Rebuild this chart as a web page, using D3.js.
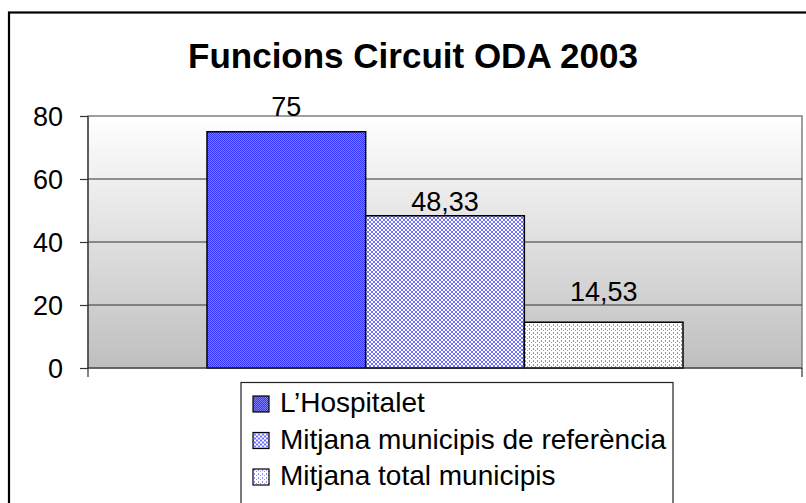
<!DOCTYPE html>
<html>
<head>
<meta charset="utf-8">
<script src="https://cdn.jsdelivr.net/npm/d3@7"></script>
<style>
  html, body { margin: 0; padding: 0; background: #fff; }
  svg { display: block; font-family: "Liberation Sans", Arial, sans-serif; }
</style>
</head>
<body>
<svg id="svg" width="806" height="503"></svg>
<script>
// chart data
var title = 'Funcions Circuit ODA 2003';
var series = ['L\u2019Hospitalet', 'Mitjana municipis de refer\u00e8ncia', 'Mitjana total municipis'];
var values = [75, 48.33, 14.53];
var yTicks = [0, 20, 40, 60, 80];

// how far each value label sits above its bar (as placed in the source)
var labelLift = [16, 5, 21];

var svg = d3.select('svg');
var defs = svg.append('defs');

var grad = defs.append('linearGradient')
  .attr('id', 'plotBg')
  .attr('x1', 0).attr('y1', 0).attr('x2', 0).attr('y2', 1);
grad.append('stop').attr('offset', '0%').attr('stop-color', '#ffffff');
grad.append('stop').attr('offset', '100%').attr('stop-color', '#bfbfbf');

// pattern fills, one per series
function pixelPattern(id, size, bg, fg, pixels) {
  var p = defs.append('pattern').attr('id', id)
    .attr('patternUnits', 'userSpaceOnUse').attr('width', size).attr('height', size);
  p.append('rect').attr('width', size).attr('height', size).attr('fill', bg);
  pixels.forEach(function (d) {
    p.append('rect').attr('x', d[0]).attr('y', d[1])
      .attr('width', 1).attr('height', 1).attr('fill', fg);
  });
}
pixelPattern('pat0', 2, '#8080ff', '#3333ff', [[0, 0], [1, 1]]);
pixelPattern('pat1', 4, '#ffffff', '#7070ff',
  [[0, 0], [1, 1], [2, 2], [3, 3], [0, 3], [1, 2], [2, 1], [3, 0]]);
pixelPattern('pat2', 4, '#ffffff', '#8c8cff', [[1, 0], [1, 1], [3, 2]]);

var fills = ['url(#pat0)', 'url(#pat1)', 'url(#pat2)'];

// chart frame (runs off the right and bottom of the picture)
svg.append('rect')
  .attr('x', 9).attr('y', 12.5).attr('width', 900).attr('height', 600)
  .attr('fill', '#fff').attr('stroke', '#000').attr('stroke-width', 2.2);

svg.append('text')
  .attr('x', 413).attr('y', 68)
  .attr('text-anchor', 'middle')
  .attr('font-size', 35).attr('font-weight', 'bold')
  .text(title);

var plot = { left: 88, right: 802, top: 116, bottom: 368 };

var y = d3.scaleLinear().domain([0, 80]).range([plot.bottom, plot.top]);
var x = d3.scaleBand().domain(series).range([plot.left, plot.right])
  .paddingInner(0).paddingOuter(0.75);

svg.append('rect')
  .attr('x', plot.left).attr('y', plot.top)
  .attr('width', plot.right - plot.left).attr('height', plot.bottom - plot.top)
  .attr('fill', 'url(#plotBg)').attr('stroke', '#808080').attr('stroke-width', 1.5);

svg.append('g').selectAll('line').data(yTicks.slice(1, -1)).join('line')
  .attr('x1', plot.left).attr('x2', plot.right)
  .attr('y1', function (d) { return y(d); }).attr('y2', function (d) { return y(d); })
  .attr('stroke', '#333').attr('stroke-width', 1.2);

svg.append('g').selectAll('rect').data(values).join('rect')
  .attr('x', function (d, i) { return x(series[i]); })
  .attr('y', function (d) { return y(d); })
  .attr('width', x.bandwidth())
  .attr('height', function (d) { return y(0) - y(d); })
  .attr('fill', function (d, i) { return fills[i]; })
  .attr('stroke', '#000').attr('stroke-width', 1.5);

// y axis
var yAxis = svg.append('g')
  .attr('transform', 'translate(' + plot.left + ',0)')
  .call(d3.axisLeft(y).tickValues(yTicks).tickSize(8).tickPadding(17));
yAxis.select('.domain').remove();
yAxis.selectAll('line').attr('stroke', '#333').attr('stroke-width', 1.2);
yAxis.selectAll('text').attr('font-size', 27).attr('fill', '#000')
  .attr('font-family', '"Liberation Sans", Arial, sans-serif')
  .attr('dy', '0.36em');
yAxis.append('line')
  .attr('x1', 0).attr('x2', 0).attr('y1', plot.top).attr('y2', plot.bottom + 9)
  .attr('stroke', '#333').attr('stroke-width', 1.2);

// x axis: a single unnamed category, ticks only at its edges
svg.append('line')
  .attr('x1', plot.left).attr('x2', plot.right)
  .attr('y1', y(0)).attr('y2', y(0))
  .attr('stroke', '#333').attr('stroke-width', 1.2);
svg.append('line')
  .attr('x1', plot.right).attr('x2', plot.right)
  .attr('y1', y(0)).attr('y2', y(0) + 9)
  .attr('stroke', '#333').attr('stroke-width', 1.2);

// value labels
svg.append('g').selectAll('text').data(values).join('text')
  .attr('x', function (d, i) { return x(series[i]) + x.bandwidth() / 2; })
  .attr('y', function (d, i) { return y(d) - labelLift[i]; })
  .attr('text-anchor', 'middle')
  .attr('font-size', 27)
  .text(function (d) { return String(d).replace('.', ','); });

// legend
var legend = svg.append('g');
legend.append('rect')
  .attr('x', 241).attr('y', 382.5).attr('width', 432).attr('height', 200)
  .attr('fill', '#fff').attr('stroke', '#222').attr('stroke-width', 1.2);

var rows = legend.selectAll('g').data(series).join('g')
  .attr('transform', function (d, i) { return 'translate(253,' + (412 + i * 36.5) + ')'; });
rows.append('rect')
  .attr('x', 0).attr('y', -16).attr('width', 16).attr('height', 16)
  .attr('fill', function (d, i) { return fills[i]; })
  .attr('stroke', '#000').attr('stroke-width', 1.2);
rows.append('text')
  .attr('x', 27).attr('y', 0)
  .attr('font-size', 28)
  .text(function (d) { return d; });
</script>
</body>
</html>
